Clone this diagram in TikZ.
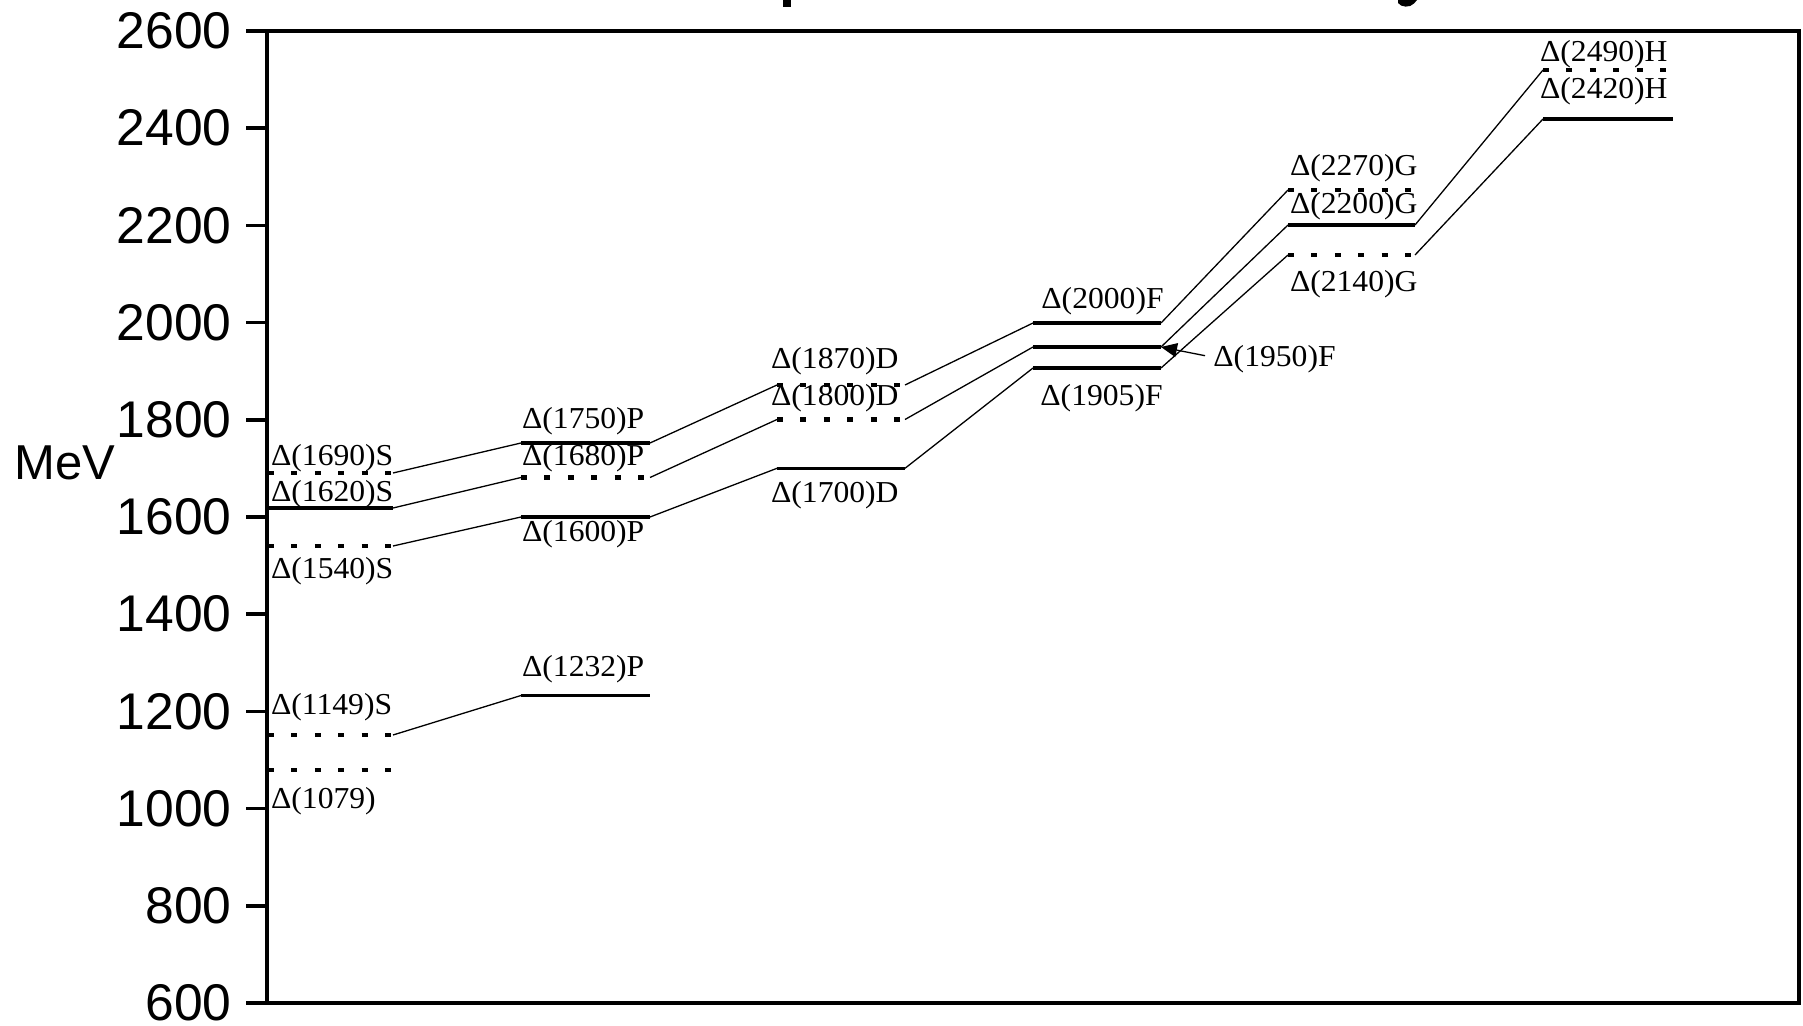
\documentclass[tikz,border=0pt]{standalone}
\usepackage{fontspec}
\setmainfont{Liberation Serif}[FakeStretch=1.04]
\newfontfamily\axfont{Liberation Sans}
\usetikzlibrary{arrows.meta}
\tikzset{
  frameline/.style={line width=1.75pt, line cap=rect},
  lvlsolid/.style={line width=1.7pt},
  lvldash/.style={line width=2.3pt, dash pattern=on 3pt off 8.7pt},
  conn/.style={line width=0.65pt},
  lab/.style={inner sep=0pt, anchor=base west, font=\fontsize{15.2}{17}\selectfont},
  ticklab/.style={inner sep=0pt, anchor=east, font=\axfont\fontsize{25.8}{30}\selectfont},
  axlab/.style={inner sep=0pt, anchor=west, font=\axfont\fontsize{24.5}{28}\selectfont},
  ptr/.style={line width=0.65pt, -{Triangle[length=8pt,width=7pt]}},
}
\newcommand\lvlpt[4]{\coordinate (L#1) at (#2,#4); \coordinate (R#1) at (#3,#4);}
\begin{document}
\begin{tikzpicture}[x=0.5pt,y=-0.5pt]
\useasboundingbox (0,0) rectangle (1803,1026);
% title fragments (cut off at top)
\fill (783,0) rectangle (791,7.5);
\fill (1398,0) -- (1398,3) .. controls (1401,7.5) and (1410,8) .. (1414,3.5) -- (1417,0) -- cycle;
% frame and axis
\draw[frameline] (267,31) rectangle (1799,1003);
\foreach \v [count=\i from 0] in {2600,2400,2200,2000,1800,1600,1400,1200,1000,800,600}{
  \draw[frameline] (248,{31+\i*97.2}) -- (267,{31+\i*97.2});
  \node[ticklab] (t\v) at (232,{31+\i*97.2}) {\v};
}
\node[axlab] (mev) at (14,463) {MeV};
% level end points
\lvlpt{1690}{268}{393}{473}
\lvlpt{1620}{268}{393}{508}
\lvlpt{1540}{268}{393}{546}
\lvlpt{1149}{268}{393}{735}
\lvlpt{1079}{268}{393}{770}
\lvlpt{1750}{521}{650}{443}
\lvlpt{1680}{521}{650}{477.5}
\lvlpt{1600}{521}{650}{517}
\lvlpt{1232}{521}{650}{695.5}
\lvlpt{1870}{777}{905}{385}
\lvlpt{1800}{777}{905}{419.5}
\lvlpt{1700}{777}{905}{468.3}
\lvlpt{2000}{1033}{1161}{323}
\lvlpt{1950}{1033}{1161}{347}
\lvlpt{1905}{1033}{1161}{368}
\lvlpt{2270}{1288}{1415}{190}
\lvlpt{2200}{1288}{1415}{225}
\lvlpt{2140}{1288}{1415}{255}
\lvlpt{2490}{1543}{1673}{70}
\lvlpt{2420}{1543}{1673}{119}
% solid levels
\foreach \n in {1620,1750,1600,1232,1700,2000,1950,1905,2200,2420}
  \draw[lvlsolid] (L\n) -- (R\n);
% dashed levels
\foreach \n in {1690,1540,1149,1079,1680,1870,1800,2270,2140,2490}
  \draw[lvldash] (L\n) -- (R\n);
% connectors
\draw[conn] (R1690) -- (L1750);
\draw[conn] (R1620) -- (L1680);
\draw[conn] (R1540) -- (L1600);
\draw[conn] (R1149) -- (L1232);
\draw[conn] (R1750) -- (L1870);
\draw[conn] (R1680) -- (L1800);
\draw[conn] (R1600) -- (L1700);
\draw[conn] (R1870) -- (L2000);
\draw[conn] (R1800) -- (L1950);
\draw[conn] (R1700) -- (L1905);
\draw[conn] (R2000) -- (L2270);
\draw[conn] (R1950) -- (L2200);
\draw[conn] (R1905) -- (L2140);
\draw[conn] (R2200) -- (L2490);
\draw[conn] (R2140) -- (L2420);
% labels
\node[lab] (d1690) at (270.7,465) {Δ(1690)S};
\node[lab] (d1620) at (270.7,501.7) {Δ(1620)S};
\node[lab] (d1540) at (270.7,578.3) {Δ(1540)S};
\node[lab] (d1149) at (270.7,714) {Δ(1149)S};
\node[lab] (d1079) at (270.7,808.3) {Δ(1079)};
\node[lab] (d1750) at (521.7,428.3) {Δ(1750)P};
\node[lab] (d1680) at (521.7,465) {Δ(1680)P};
\node[lab] (d1600) at (521.7,541.7) {Δ(1600)P};
\node[lab] (d1232) at (521.7,676) {Δ(1232)P};
\node[lab] (d1870) at (770.7,368.3) {Δ(1870)D};
\node[lab] (d1800) at (770.7,406) {Δ(1800)D};
\node[lab] (d1700) at (770.7,502.7) {Δ(1700)D};
\node[lab] (d2000) at (1041,309) {Δ(2000)F};
\node[lab] (d1950) at (1213,367) {Δ(1950)F};
\node[lab] (d1905) at (1040,406) {Δ(1905)F};
\node[lab] (d2270) at (1289.6,176) {Δ(2270)G};
\node[lab] (d2200) at (1289.6,213.3) {Δ(2200)G};
\node[lab] (d2140) at (1289.6,291.7) {Δ(2140)G};
\node[lab] (d2490) at (1539.7,61.7) {Δ(2490)H};
\node[lab] (d2420) at (1539.7,99) {Δ(2420)H};
% pointer for 1950
\draw[ptr] ([xshift=-4pt,yshift=2pt]d1950.west) -- (R1950);
\end{tikzpicture}
\end{document}
